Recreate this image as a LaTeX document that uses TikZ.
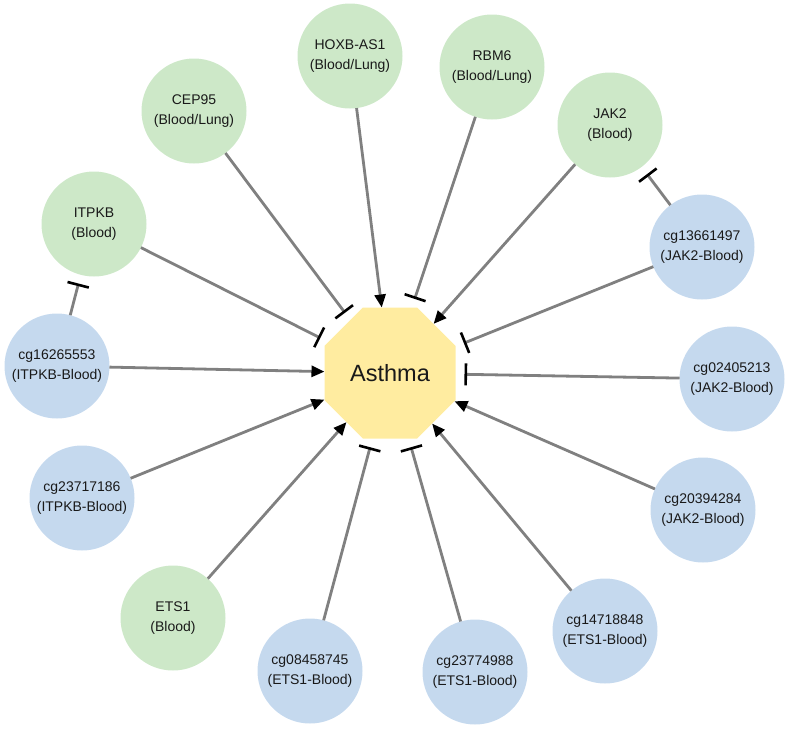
\documentclass[tikz,border=0pt]{standalone}
\usepackage{fontspec}
\setmainfont{Liberation Sans}
\usetikzlibrary{arrows.meta,shapes.geometric}
\definecolor{gfill}{RGB}{205,232,200}
\definecolor{bfill}{RGB}{197,217,238}
\definecolor{yfill}{RGB}{255,236,160}
\definecolor{edgegray}{RGB}{128,128,128}
\begin{document}
\begin{tikzpicture}[x=1pt,y=-1pt,
 gene/.style={circle,fill=gfill,minimum size=105pt,inner sep=0pt,outer sep=0pt,align=center,text=black!90,font=\fontsize{14}{20}\selectfont},
 cpg/.style={gene,fill=bfill},
 disease/.style={regular polygon,regular polygon sides=8,fill=yfill,minimum size=141.8pt,inner sep=0pt,outer sep=0pt,text=black!90,font=\fontsize{23.5}{28}\selectfont},
 edge/.style={draw=edgegray,line width=2.8pt},
 act/.style={edge,-{Triangle[length=13pt,width=11pt,color=black]}},
 inh/.style={edge,-{Bar[width=22pt,line width=2.6pt,color=black]},shorten >=9pt},
]
\useasboundingbox (0,0) rectangle (790,729);

\node[disease] (asthma) at (390,373) {Asthma};

\node[gene] (hoxb) at (350,56) {HOXB-AS1\\(Blood/Lung)};
\node[gene] (rbm6) at (492,67) {RBM6\\(Blood/Lung)};
\node[gene] (cep95) at (194,111) {CEP95\\(Blood/Lung)};
\node[gene] (jak2) at (610,125) {JAK2\\(Blood)};
\node[gene] (itpkb) at (94,224) {ITPKB\\(Blood)};
\node[gene] (ets1) at (173,618) {ETS1\\(Blood)};

\node[cpg] (cgA) at (702,247) {cg13661497\\(JAK2-Blood)};
\node[cpg] (cgB) at (57,366) {cg16265553\\(ITPKB-Blood)};
\node[cpg] (cgC) at (732,379) {cg02405213\\(JAK2-Blood)};
\node[cpg] (cgD) at (82,498) {cg23717186\\(ITPKB-Blood)};
\node[cpg] (cgE) at (703,510) {cg20394284\\(JAK2-Blood)};
\node[cpg] (cgF) at (605,631) {cg14718848\\(ETS1-Blood)};
\node[cpg] (cgG) at (310,671) {cg08458745\\(ETS1-Blood)};
\node[cpg] (cgH) at (475,672) {cg23774988\\(ETS1-Blood)};

\draw[act] (hoxb) -- (asthma);
\draw[inh] (rbm6) -- (asthma);
\draw[inh] (cep95) -- (asthma);
\draw[act] (jak2) -- (asthma);
\draw[inh] (itpkb) -- (asthma);
\draw[act] (ets1) -- (asthma);
\draw[inh] (cgA) -- (asthma);
\draw[inh] (cgA) -- (jak2);
\draw[act] (cgB) -- (asthma);
\draw[inh] (cgB) -- (itpkb);
\draw[inh] (cgC) -- (asthma);
\draw[act] (cgD) -- (asthma);
\draw[act] (cgE) -- (asthma);
\draw[act] (cgF) -- (asthma);
\draw[inh] (cgG) -- (asthma);
\draw[inh] (cgH) -- (asthma);
\end{tikzpicture}
\end{document}
